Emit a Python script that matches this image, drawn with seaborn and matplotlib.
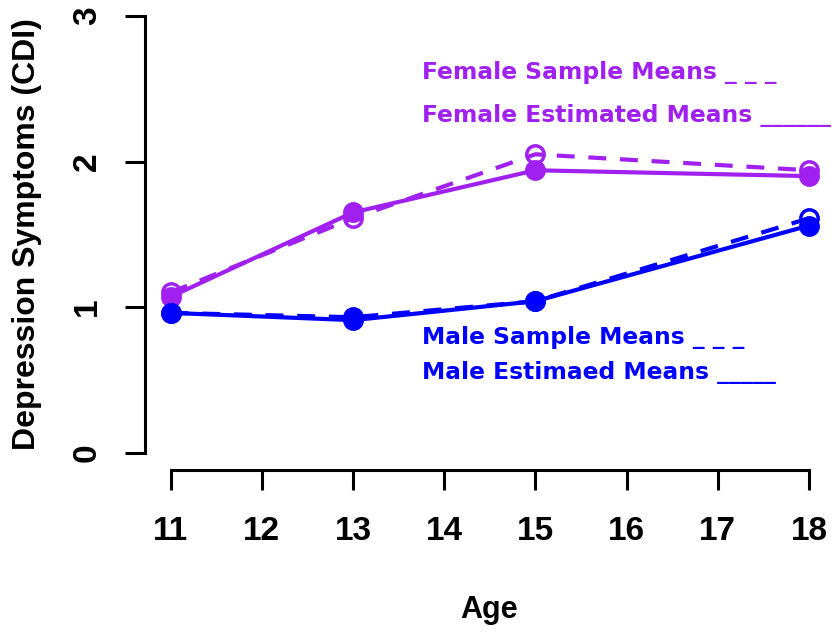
import pandas as pd
import matplotlib
matplotlib.use("Agg")
import matplotlib.pyplot as plt
import seaborn as sns

age = [11, 13, 15, 18]
female_sample = [1.10, 1.61, 2.05, 1.94]
female_est = [1.07, 1.65, 1.94, 1.90]
male_sample = [0.96, 0.93, 1.04, 1.61]
male_est = [0.96, 0.91, 1.04, 1.56]

x_ticks = [11, 12, 13, 14, 15, 16, 17, 18]
y_ticks = [0, 1, 2, 3]

PURPLE = "#A020F0"
BLUE = "#0000FF"

sns.set_style("ticks")
plt.rcParams["font.family"] = ["Liberation Sans", "DejaVu Sans"]
plt.rcParams["font.weight"] = "bold"
plt.rcParams["text.color"] = "black"
plt.rcParams["axes.labelcolor"] = "black"
plt.rcParams["xtick.color"] = "black"
plt.rcParams["ytick.color"] = "black"
plt.rcParams["axes.edgecolor"] = "black"

fig = plt.figure(figsize=(8.35, 6.33), dpi=100)
ax = fig.add_axes([145 / 835, 1 - 470 / 633, 689.5 / 835, 471.4 / 633])

# dashed = observed sample means (open circles), solid = model estimates
dash = (0, (4.3, 3.3))
series = [
    (female_est, PURPLE, "-", PURPLE),
    (female_sample, PURPLE, dash, "none"),
    (male_est, BLUE, "-", BLUE),
    (male_sample, BLUE, dash, "none"),
]
for vals, col, ls, face in series:
    df = pd.DataFrame({"age": age, "cdi": vals})
    sns.lineplot(data=df, x="age", y="cdi", ax=ax, color=col, linestyle=ls,
                 linewidth=3, marker="o", markersize=12.5, markerfacecolor=face,
                 markeredgecolor=col, markeredgewidth=2.5, errorbar=None)

ax.set_xlim(10.72, 18.28)
ax.set_ylim(-0.12, 3.12)
ax.set_xticks(x_ticks)
ax.set_yticks(y_ticks)
sns.despine(ax=ax)
ax.spines["left"].set_bounds(0, 3)
ax.spines["bottom"].set_bounds(11, 18)
for s in ["left", "bottom"]:
    ax.spines[s].set_linewidth(2.2)
    ax.spines[s].set_color("black")
ax.tick_params(length=14.4, width=2.2, labelsize=24, color="black", labelcolor="black")
ax.tick_params(axis="x", pad=19)
ax.tick_params(axis="y", pad=16)
for lab in ax.get_yticklabels():
    lab.set_rotation(90)
    lab.set_va("center")
for lab in ax.get_xticklabels() + ax.get_yticklabels():
    lab.set_fontweight("bold")

ax.set_xlabel("Age", fontsize=22, fontweight="bold", va="center", color="black")
ax.set_ylabel("Depression Symptoms (CDI)", fontsize=23, fontweight="bold", va="center",
              color="black")
ax.xaxis.set_label_coords(0.499, -0.297)
ax.yaxis.set_label_coords(-0.171, 0.50)

labels = [
    ("Female Sample Means _ _ _", 2.567, PURPLE),
    ("Female Estimated Means ______", 2.273, PURPLE),
    ("Male Sample Means _ _ _", 0.748, BLUE),
    ("Male Estimaed Means _____", 0.507, BLUE),
]
for txt, yv, col in labels:
    ax.text(13.76, yv, txt, color=col, fontsize=16.8, fontweight="bold",
            family="DejaVu Sans", ha="left", va="baseline", clip_on=False)

fig.savefig("out.png", dpi=100)
